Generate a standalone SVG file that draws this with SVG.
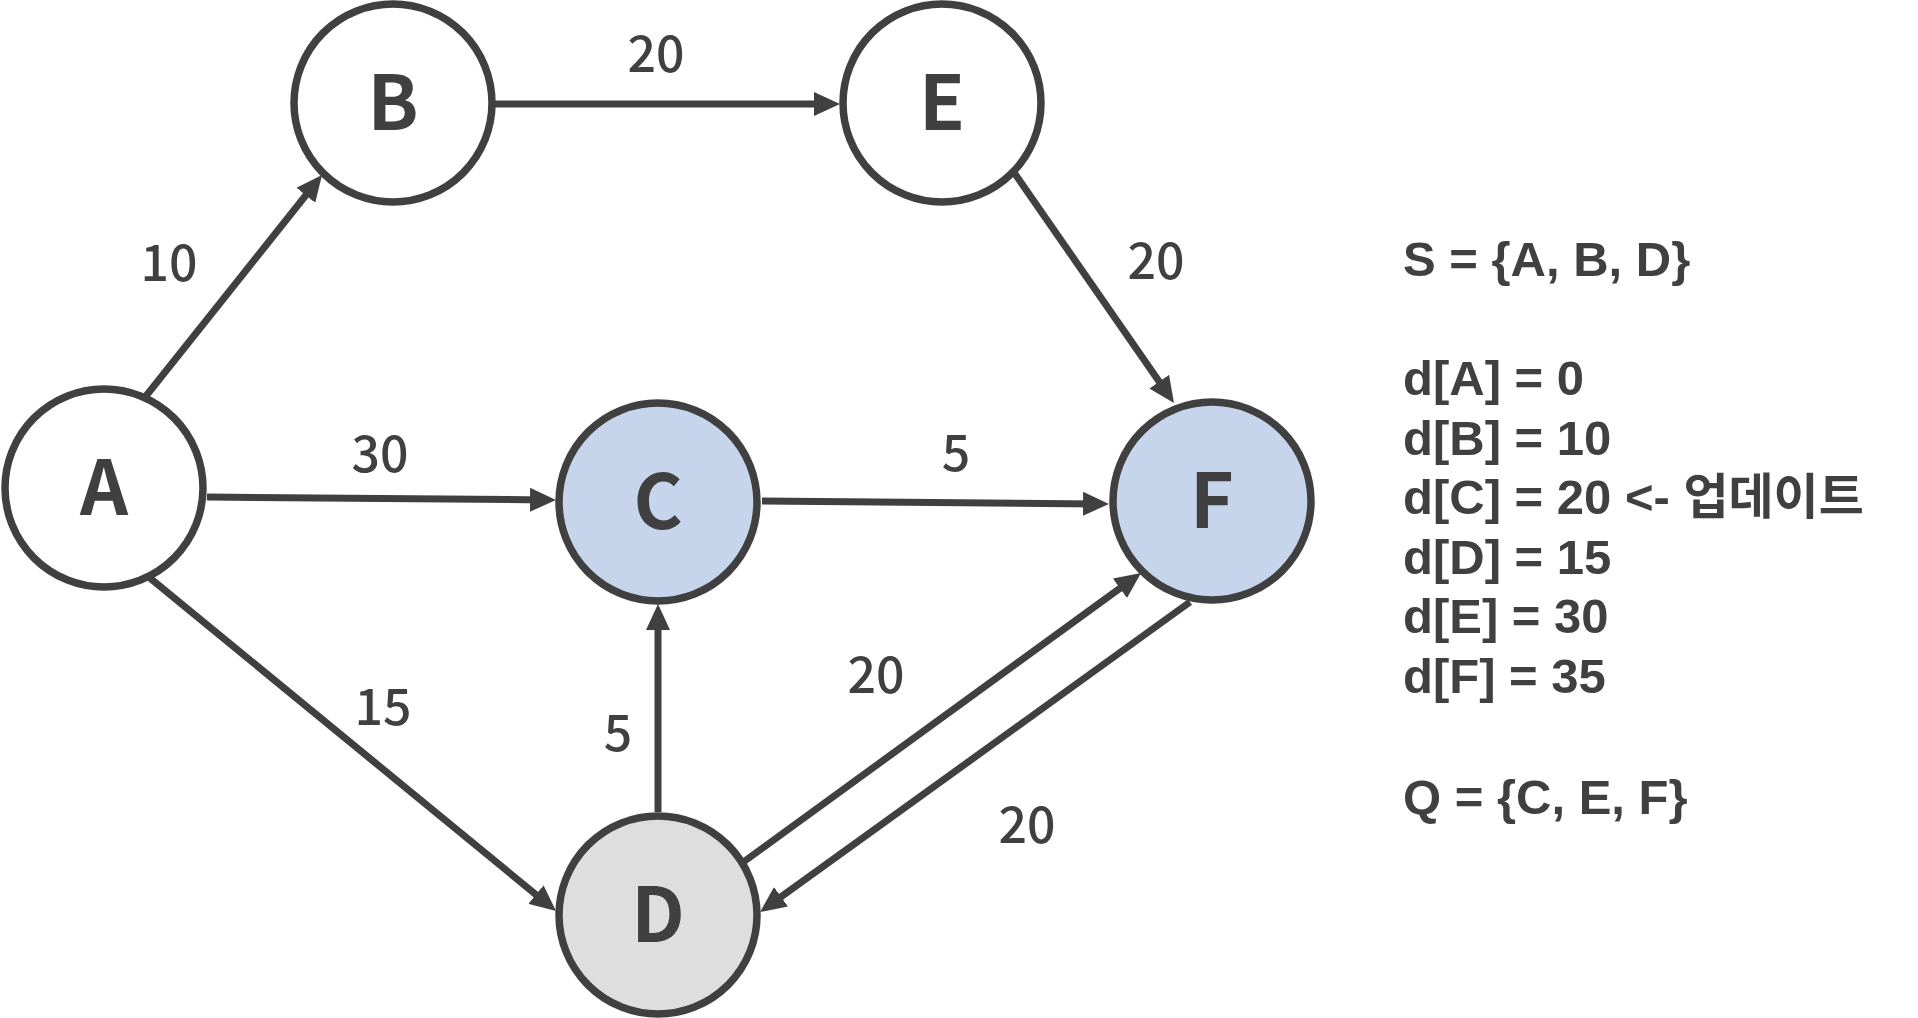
<svg xmlns="http://www.w3.org/2000/svg" width="1918" height="1018" viewBox="0 0 1918 1018">
<style>
.node{stroke:#404040;stroke-width:7.5}
.white{fill:#ffffff}
.blue{fill:#c6d5ec}
.gray{fill:#dedede}
.nl{font-family:"Noto Sans CJK KR","Noto Sans",sans-serif;font-weight:700;font-size:75px;fill:#404040;text-anchor:middle}
.edge{stroke:#404040;stroke-width:7;fill:none;marker-end:url(#arr)}
.el{font-family:"Noto Sans CJK KR","Noto Sans",sans-serif;font-weight:500;font-size:50px;fill:#404040;text-anchor:middle}
.info{font-family:"Liberation Sans","Noto Sans CJK KR",sans-serif;font-weight:700;font-size:49px;fill:#404040}
</style>
<defs>
<marker id="arr" markerUnits="userSpaceOnUse" markerWidth="26" markerHeight="24" refX="16" refY="12" orient="auto">
<path d="M0,0 L26,12 L0,24 z" fill="#404040"/>
</marker>
</defs>
<rect width="1918" height="1018" fill="#ffffff"/>
<g id="connectors">
<line class="edge" x1="146" y1="396" x2="315.8" y2="182.8"/>
<line class="edge" x1="495" y1="104" x2="830" y2="104"/>
<line class="edge" x1="1013" y1="171" x2="1168.3" y2="394.8"/>
<line class="edge" x1="207" y1="497" x2="546" y2="499.9"/>
<line class="edge" x1="762" y1="501" x2="1099" y2="503.9"/>
<line class="edge" x1="145" y1="574" x2="548.3" y2="904.7"/>
<line class="edge" x1="658" y1="812" x2="658" y2="614"/>
<line class="edge" x1="742" y1="863" x2="1132.9" y2="578.9"/>
<line class="edge" x1="1190" y1="602" x2="768.1" y2="906.2"/>
<text class="el" x="656" y="72">20</text>
<text class="el" x="169" y="281">10</text>
<text class="el" x="1156" y="279">20</text>
<text class="el" x="380" y="472">30</text>
<text class="el" x="956" y="471">5</text>
<text class="el" x="383" y="725">15</text>
<text class="el" x="618" y="751">5</text>
<text class="el" x="876" y="693">20</text>
<text class="el" x="1027" y="843">20</text>
</g>
<g id="node-A"><circle class="node white" cx="104" cy="488" r="99"/><text class="nl" x="104" y="515">A</text></g>
<g id="node-B"><circle class="node white" cx="393" cy="103" r="99"/><text class="nl" x="393" y="130">B</text></g>
<g id="node-E"><circle class="node white" cx="942" cy="103" r="99"/><text class="nl" x="942" y="130">E</text></g>
<g id="node-C"><circle class="node blue" cx="658" cy="502" r="99"/><text class="nl" x="658" y="529">C</text></g>
<g id="node-F"><circle class="node blue" cx="1212" cy="501" r="99"/><text class="nl" x="1212" y="528">F</text></g>
<g id="node-D"><circle class="node gray" cx="658" cy="915" r="99"/><text class="nl" x="658" y="942">D</text></g>
<g id="info">
<text class="info" x="1403" y="276">S = {A, B, D}</text>
<text class="info" x="1403" y="395">d[A] = 0</text>
<text class="info" x="1403" y="455">d[B] = 10</text>
<text class="info" x="1403" y="514">d[C] = 20 &lt;- 업데이트</text>
<text class="info" x="1403" y="574">d[D] = 15</text>
<text class="info" x="1403" y="633">d[E] = 30</text>
<text class="info" x="1403" y="693">d[F] = 35</text>
<text class="info" x="1403" y="814">Q = {C, E, F}</text>
</g>
</svg>
